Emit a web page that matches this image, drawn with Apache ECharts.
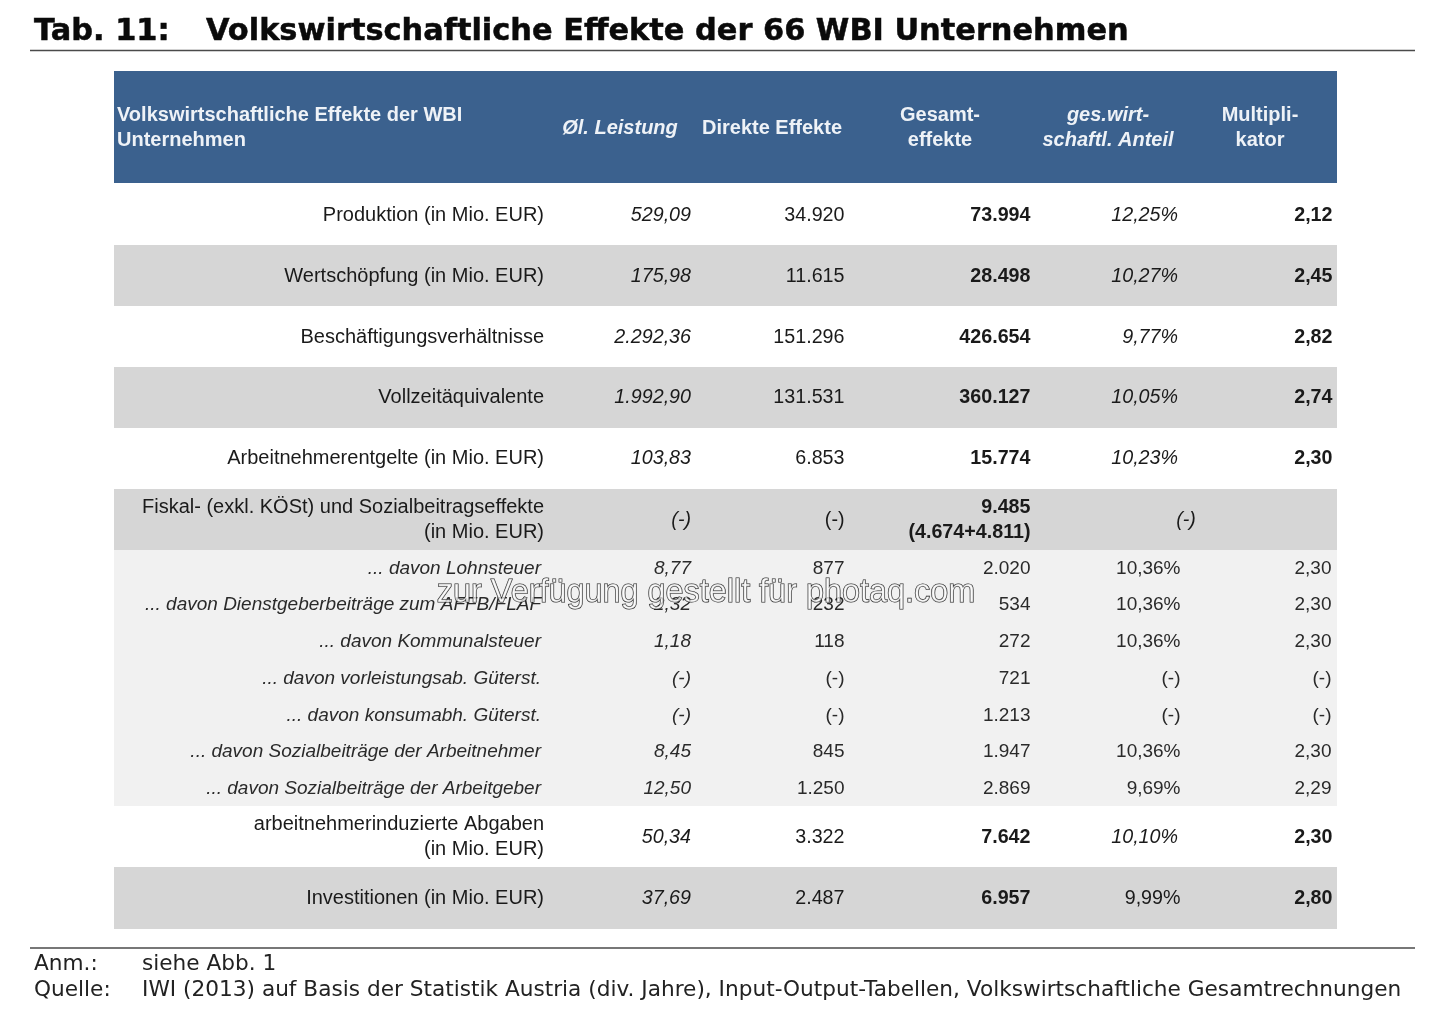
<!DOCTYPE html>
<html><head><meta charset="utf-8">
<style>html,body{margin:0;padding:0;background:#fff}#c{width:1440px;height:1025px}</style>
<script src="https://cdn.jsdelivr.net/npm/echarts@6/dist/echarts.min.js"></script>
</head><body><div id="c"></div>
<script>
// ---- table content ----
const titleNo = 'Tab. 11:';
const titleText = 'Volkswirtschaftliche Effekte der 66 WBI Unternehmen';
const headers = [
  'Volkswirtschaftliche Effekte der WBI\nUnternehmen',
  'Øl. Leistung', 'Direkte Effekte', 'Gesamt-\neffekte', 'ges.wirt-\nschaftl. Anteil', 'Multipli-\nkator'
];
const rowLabels = [
  'Produktion (in Mio. EUR)', 'Wertschöpfung (in Mio. EUR)', 'Beschäftigungsverhältnisse',
  'Vollzeitäquivalente', 'Arbeitnehmerentgelte (in Mio. EUR)',
  'Fiskal- (exkl. KÖSt) und Sozialbeitragseffekte\n(in Mio. EUR)',
  '... davon Lohnsteuer', '... davon Dienstgeberbeiträge zum AFFB/FLAF', '... davon Kommunalsteuer',
  '... davon vorleistungsab. Güterst.', '... davon konsumabh. Güterst.',
  '... davon Sozialbeiträge der Arbeitnehmer', '... davon Sozialbeiträge der Arbeitgeber',
  'arbeitnehmerinduzierte Abgaben\n(in Mio. EUR)', 'Investitionen (in Mio. EUR)'
];
const leistung = ['529,09','175,98','2.292,36','1.992,90','103,83','(-)','8,77','2,32','1,18','(-)','(-)','8,45','12,50','50,34','37,69'];
const direkt = ['34.920','11.615','151.296','131.531','6.853','(-)','877','232','118','(-)','(-)','845','1.250','3.322','2.487'];
const gesamt = ['73.994','28.498','426.654','360.127','15.774','9.485\n(4.674+4.811)','2.020','534','272','721','1.213','1.947','2.869','7.642','6.957'];
const anteil = ['12,25%','10,27%','9,77%','10,05%','10,23%','(-)','10,36%','10,36%','10,36%','(-)','(-)','10,36%','9,69%','10,10%','9,99%'];
const multiplikator = ['2,12','2,45','2,82','2,74','2,30','','2,30','2,30','2,30','(-)','(-)','2,30','2,29','2,30','2,80'];
const noteLabels = ['Anm.:','Quelle:'];
const noteTexts = ['siehe Abb. 1','IWI (2013) auf Basis der Statistik Austria (div. Jahre), Input-Output-Tabellen, Volkswirtschaftliche Gesamtrechnungen'];
const watermark = 'zur Verfügung gestellt für photaq.com';

// ---- layout ----
const BLUE='#3b618e', GREY='#d6d6d6', LIGHT='#f1f1f1', INK='#1a1a1a', SUB='#2a2a2a', HEAD='#eef2f7';
const SANS='"Liberation Sans"', DV='"DejaVu Sans"';
const rowY=[215.2,276.2,337.2,397.7,458.7,520.2,569.2,605.2,642.2,678.7,716.2,751.7,789.2,837.2,898.2];
const isSub=i=>i>=6&&i<=12;
const bands=[[114,71,1337,183,BLUE],[114,245,1337,306,GREY],[114,367,1337,428,GREY],[114,489,1337,550,GREY],[114,550,1337,806,LIGHT],[114,867,1337,929,GREY]];
const rules=[[30,50.5,1415,50.5],[30,948,1415,948]];

const cells=[];
function put(text,x,y,font,align,fill,lh,stroke){
  String(text).split('\n').forEach((t,k,a)=>{
    if(t) cells.push({value:[x,y+(k-(a.length-1)/2)*(lh||25.5)],t,font,align,fill,stroke});
  });
}
put(titleNo,34,32.5,'bold 30.4px '+DV,'left','#0a0a0a',0,0.5);
put(titleText,206,32.5,'bold 30.4px '+DV,'left','#0a0a0a',0,0.5);
const hb='bold 20px '+SANS, hi='italic bold 20px '+SANS;
put(headers[0],117,128,hb,'left',HEAD,25);
put(headers[1],620,128.5,hi,'center',HEAD);
put(headers[2],772,128.5,hb,'center',HEAD);
put(headers[3],940,128,hb,'center',HEAD,25);
put(headers[4],1108,128,hi,'center',HEAD,25);
put(headers[5],1260,128,hb,'center',HEAD,25);
rowLabels.forEach((s,i)=>{
  const y=rowY[i], sub=isSub(i), c=sub?SUB:INK;
  const reg=(sub?19:20)+'px '+SANS, it='italic '+(sub?19:20)+'px '+SANS;
  const nreg=(sub?19:19.7)+'px '+SANS, nit='italic '+(sub?19:19.7)+'px '+SANS, bd='bold 19.7px '+SANS;
  put(s,sub?541:544,y,sub?it:reg,'right',c);
  put(leistung[i],691,y,nit,'right',c);
  put(direkt[i],844.5,y,nreg,'right',c);
  put(gesamt[i],1030.5,y,sub?nreg:bd,'right',c);
  if(i===5) put(anteil[i],1186,y,nit,'center',c);
  else if(sub||i===14) put(anteil[i],1180.5,y,nreg,'right',c);
  else put(anteil[i],1178,y,nit,'right',c);
  put(multiplikator[i],sub?1331.5:1332.5,y,sub?nreg:bd,'right',c);
});
noteLabels.forEach((s,i)=>{
  put(s,34,964+i*26.5,'21.65px '+DV,'left','#222');
  put(noteTexts[i],142,964+i*26.5,'21.65px '+DV,'left','#222');
});

const chart=echarts.init(document.getElementById('c'));
chart.setOption({
  animation:false,
  backgroundColor:'#fff',
  grid:{left:0,right:0,top:0,bottom:0},
  xAxis:{type:'value',min:0,max:1440,show:false},
  yAxis:{type:'value',min:0,max:1025,inverse:true,show:false},
  series:[
    {name:'bands',type:'custom',silent:true,clip:false,z:1,
     data:bands.map(b=>b.slice(0,4)),
     renderItem(p,api){
       const a=api.coord([api.value(0),api.value(1)]),b=api.coord([api.value(2),api.value(3)]);
       return {type:'rect',shape:{x:a[0],y:a[1],width:b[0]-a[0],height:b[1]-a[1]},style:{fill:bands[p.dataIndex][4]}};
     }},
    {name:'rules',type:'custom',silent:true,clip:false,z:2,data:rules,
     renderItem(p,api){
       const a=api.coord([api.value(0),api.value(1)]),b=api.coord([api.value(2),api.value(3)]);
       return {type:'line',shape:{x1:a[0],y1:a[1],x2:b[0],y2:b[1]},style:{stroke:'#4a4a4a',lineWidth:1.6}};
     }},
    {name:'table',type:'custom',silent:true,clip:false,z:3,data:cells,
     renderItem(p,api){
       const c=cells[p.dataIndex],q=api.coord([api.value(0),api.value(1)]);
       const st={text:c.t,font:c.font,fill:c.fill,align:c.align,verticalAlign:'middle'};
       if(c.stroke){st.stroke=c.fill;st.lineWidth=c.stroke;}
       return {type:'text',x:q[0],y:q[1],style:st};
     }},
    {name:'watermark',type:'custom',silent:true,clip:false,z:4,data:[[706,593]],
     renderItem(p,api){
       const q=api.coord([api.value(0),api.value(1)]);
       return {type:'text',x:q[0],y:q[1],style:{text:watermark,font:'32.4px '+SANS,fill:'rgba(255,255,255,0.7)',stroke:'#222',lineWidth:1.1,align:'center',verticalAlign:'middle'}};
     }}
  ]
});
</script></body></html>
